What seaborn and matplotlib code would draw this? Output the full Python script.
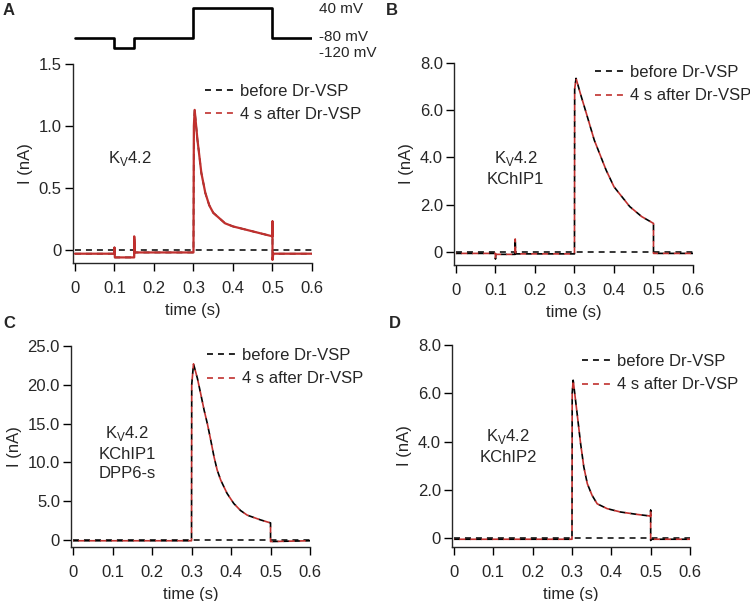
import numpy as np
import pandas as pd
import seaborn as sns
import matplotlib.pyplot as plt
from matplotlib.lines import Line2D
from matplotlib.ticker import FuncFormatter

# voltage protocol (step levels, mV)
step_times = [0.0, 0.1, 0.15, 0.3, 0.5, 0.6]
step_mv = [-80, -120, -80, 40, -80, -80]
step_labels = ['40 mV', '-80 mV', '-120 mV']

# current traces (nA)
a_t = [0.0, 0.1, 0.1, 0.101, 0.15, 0.15, 0.152, 0.3, 0.301, 0.303, 0.31, 0.32, 0.33, 0.34,
       0.35, 0.38, 0.40, 0.45, 0.5, 0.5, 0.5, 0.502, 0.6]
a_i = [-0.03, -0.03, 0.02, -0.06, -0.06, 0.11, -0.02, -0.02, 1.0, 1.13, 0.89, 0.62, 0.46, 0.36,
       0.30, 0.215, 0.19, 0.15, 0.11, 0.23, -0.08, -0.03, -0.03]

b_t = [0.0, 0.1, 0.1, 0.101, 0.15, 0.15, 0.151, 0.3, 0.3005, 0.304, 0.315, 0.33, 0.35, 0.38,
       0.40, 0.44, 0.47, 0.5, 0.5, 0.6]
b_i = [-0.06, -0.06, -0.3, -0.1, -0.1, 0.55, -0.08, -0.08, 6.9, 7.35, 6.7, 5.87, 4.74, 3.47,
       2.76, 1.92, 1.5, 1.21, -0.06, -0.06]

c_t = [0.0, 0.3, 0.3005, 0.305, 0.315, 0.323, 0.332, 0.34, 0.3485, 0.357, 0.365, 0.374, 0.39,
       0.407, 0.424, 0.441, 0.474, 0.5, 0.5, 0.6]
c_i = [-0.1, -0.1, 20.0, 22.7, 20.8, 18.9, 16.7, 15.0, 12.9, 10.7, 9.0, 7.7, 6.0,
       4.7, 3.8, 3.2, 2.6, 2.2, -0.2, -0.1]

d_t = [0.0, 0.3, 0.3005, 0.303, 0.313, 0.322, 0.33, 0.339, 0.351, 0.364, 0.389, 0.423, 0.465,
       0.5, 0.5, 0.5, 0.502, 0.6]
d_i = [-0.05, -0.05, 6.0, 6.54, 5.16, 3.9, 2.95, 2.25, 1.77, 1.42, 1.22, 1.08, 0.98,
       0.91, 1.15, -0.1, -0.05, -0.05]

panel_letters = ['A', 'B', 'C', 'D']
constructs = [r'K$_\mathregular{V}$4.2',
              'K$_\\mathregular{V}$4.2\nKChIP1',
              'K$_\\mathregular{V}$4.2\nKChIP1\nDPP6-s',
              'K$_\\mathregular{V}$4.2\nKChIP2']
y_maxes = [1.5, 8.0, 25.0, 8.0]
y_steps = [0.5, 2.0, 5.0, 2.0]
x_ticks = [0, 0.1, 0.2, 0.3, 0.4, 0.5, 0.6]
legend_labels = ['before Dr-VSP', '4 s after Dr-VSP']

sns.set_style('ticks')
plt.rcParams['font.family'] = ['Liberation Sans', 'DejaVu Sans']
plt.rcParams['font.size'] = 12
plt.rcParams['lines.scale_dashes'] = False
plt.rcParams['axes.linewidth'] = 1.0

red = '#c0302e'
dash_k = (0, (4.3, 3.6))
dash_r = (4.0, (4.3, 3.6))

fig = plt.figure(figsize=(7.5, 6.01), dpi=100)

# axes layout [left, bottom, width, height]
boxes = [[0.0973, 0.5624, 0.3187, 0.3311],
         [0.6053, 0.5591, 0.3187, 0.3361],
         [0.0947, 0.0899, 0.3187, 0.3344],
         [0.6027, 0.0899, 0.3173, 0.3361]]
y_mins = [-0.105, -0.55, -0.9, -0.37]
label_pos = [(0.139, 0.74), (0.151, 3.56), (0.137, 11.3), (0.138, 3.8)]
leg_anchor = [(0.552, 0.90), (0.59, 0.99), (0.569, 0.99), (0.546, 0.955)]
letter_pos = [(0.004, 0.995), (0.515, 0.995), (0.004, 0.475), (0.518, 0.475)]

traces = [(a_t, a_i), (b_t, b_i), (c_t, c_i), (d_t, d_i)]
fmt = FuncFormatter(lambda v, p: '0' if abs(v) < 1e-9 else f'{v:.1f}')

for k, (t, cur) in enumerate(traces):
    ax = fig.add_axes(boxes[k])
    df = pd.DataFrame({'t': t, 'i': cur})
    ax.hlines(0, min(t), max(t), colors='black', linestyles=[dash_k], lw=1.1, zorder=1)
    sns.lineplot(data=df, x='t', y='i', estimator=None, sort=False, color='black',
                 linestyle=dash_k, lw=1.2, ax=ax, zorder=2)
    if k == 0:
        sns.lineplot(data=df, x='t', y='i', estimator=None, sort=False, color=red,
                     lw=1.6, ax=ax, zorder=3)
    else:
        sns.lineplot(data=df, x='t', y='i', estimator=None, sort=False, color=red,
                     linestyle=dash_r, lw=1.2, ax=ax, zorder=3)
    ax.set_xlim(-0.005, 0.6)
    ax.set_ylim(y_mins[k], y_maxes[k])
    ax.set_xticks(x_ticks)
    ax.set_xticklabels(['0'] + [f'{v:.1f}' for v in x_ticks[1:]])
    ax.set_yticks(np.arange(0, y_maxes[k] + 1e-9, y_steps[k]))
    ax.yaxis.set_major_formatter(fmt)
    ax.tick_params(labelsize=12, width=1.0, length=6, color='black')
    ax.tick_params(axis='y', pad=2)
    ax.tick_params(axis='x', pad=7)
    ax.set_xlabel('time (s)', fontsize=12, labelpad=5)
    ax.set_ylabel('I (nA)', fontsize=12, labelpad=4)
    sns.despine(ax=ax)
    ax.text(label_pos[k][0], label_pos[k][1], constructs[k], ha='center', va='center',
            fontsize=12, linespacing=1.35)
    handles = [Line2D([], [], color='black', linestyle=dash_k, lw=1.2),
               Line2D([], [], color=red, linestyle=dash_k, lw=1.2)]
    ax.legend(handles, legend_labels, loc='upper left', bbox_to_anchor=leg_anchor[k],
              frameon=False, fontsize=12, handlelength=1.7, handletextpad=0.4,
              borderpad=0, borderaxespad=0, labelspacing=0.5)
    fig.text(letter_pos[k][0], letter_pos[k][1], panel_letters[k], fontsize=12,
             fontweight='bold', ha='left', va='top')

# voltage protocol above panel A
pax = fig.add_axes([0.0973, 0.916, 0.3187, 0.0749])
sns.lineplot(x=step_times, y=step_mv, estimator=None, sort=False, color='black',
             lw=1.9, drawstyle='steps-post', ax=pax)
pax.set_xlim(-0.005, 0.6)
pax.set_ylim(-130, 50)
pax.axis('off')
for lab, lev in zip(step_labels, [max(step_mv) - 4, step_mv[0] + 4, min(step_mv) - 20]):
    pax.text(0.617, lev, lab, ha='left', va='center', fontsize=11, clip_on=False)

fig.savefig('out.png', dpi=100)
